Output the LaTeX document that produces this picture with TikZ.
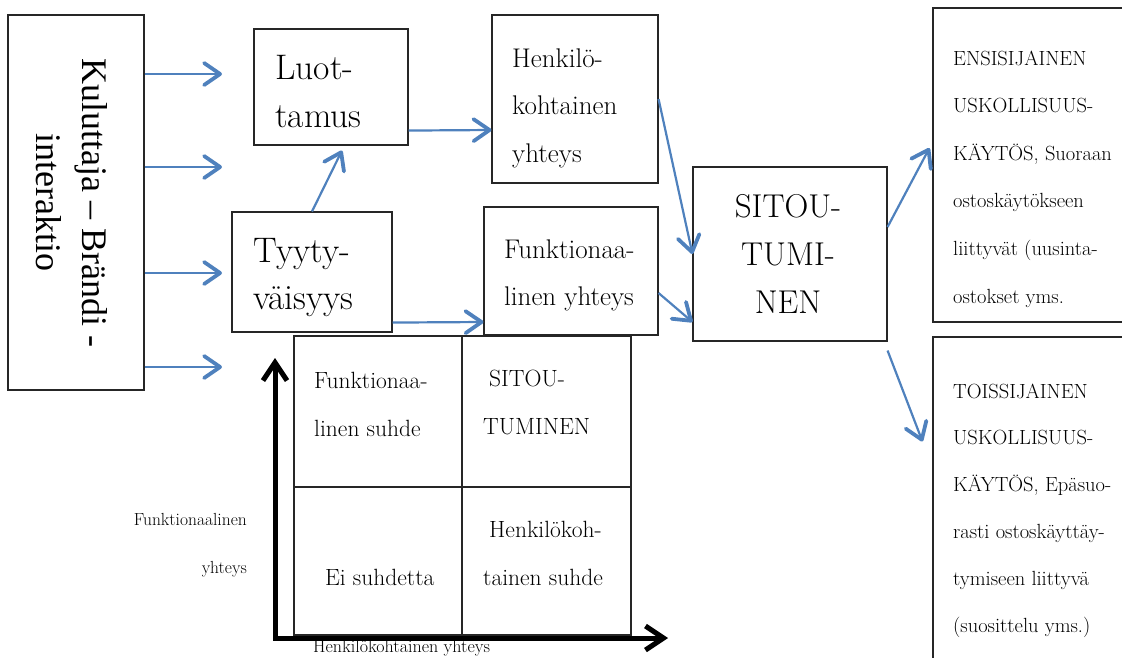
\documentclass[tikz,border=0pt]{standalone}
\usepackage{fontspec}
\newfontfamily\timesfont{Liberation Serif}
\usetikzlibrary{arrows.meta,calc}
\definecolor{flowblue}{RGB}{79,129,189}
\begin{document}
\begin{tikzpicture}[x=1pt,y=-1pt,
  box/.style={draw=black!85,line width=1.1pt,inner sep=0pt},
  txt/.style={inner sep=0pt,align=left,anchor=base west},
  flow/.style={draw=flowblue,line width=2.2pt,
    -{Straight Barb[length=16pt,width=22pt,line width=3.8pt,round]}},
  axis/.style={line width=5pt,
    {Straight Barb[length=18pt,width=24pt,line width=5pt]}-{Straight Barb[length=18pt,width=24pt,line width=5pt]}},
]
\useasboundingbox (0,0) rectangle (1122,657);

% consumer-brand interaction box
\node[box,minimum width=136pt,minimum height=375pt] (kb) at (76,202.5) {};
\node[rotate=-90,inner sep=0pt,align=center,font=\timesfont\fontsize{36}{46}\selectfont] (kbt) at (72.3,202.5) {Kuluttaja – Brändi -\\interaktio};

% trust and satisfaction (anchors sit on the last baseline)
\node[box,minimum width=154pt,minimum height=116pt] (lu) at (331,87) {};
\node[txt,font=\fontsize{35.5}{48}\selectfont] (lut) at (275,127) {Luot-\\tamus};
\node[box,minimum width=160pt,minimum height=120pt] (ty) at (312,272) {};
\node[txt,font=\fontsize{35.5}{47}\selectfont] (tyt) at (253,309) {Tyyty-\\väisyys};

% personal and functional connection
\node[box,minimum width=166pt,minimum height=168pt] (he) at (575,99) {};
\node[txt,font=\fontsize{27}{47.5}\selectfont] (het) at (512,162) {Henkilö-\\kohtainen\\yhteys};
\node[box,minimum width=174pt,minimum height=128pt] (fu) at (571,271) {};
\node[txt,font=\fontsize{27}{47}\selectfont] (fut) at (504,305) {Funktionaa-\\linen yhteys};

% commitment
\node[box,minimum width=194pt,minimum height=174pt] (si) at (790,254) {};
\node[inner sep=0pt,align=center,anchor=base,font=\fontsize{33}{48}\selectfont] (sit) at (788,313) {SITOU-\\TUMI-\\NEN};

% loyalty behaviour
\node[box,minimum width=197pt,minimum height=314pt] (en) at (1031.5,165) {};
\node[txt,font=\fontsize{20.5}{47.6}\selectfont] (ent) at (953,303) {ENSISIJAINEN\\USKOLLISUUS-\\KÄYTÖS, Suoraan\\ostoskäytökseen\\liittyvät (uusinta-\\ostokset yms.};
\node[box,minimum width=197pt,minimum height=343pt] (to) at (1031.5,508.5) {};
\node[txt,font=\fontsize{20.5}{46.8}\selectfont] (tot) at (953,632) {TOISSIJAINEN\\USKOLLISUUS-\\KÄYTÖS, Epäsuo-\\rasti ostoskäyttäy-\\tymiseen liittyvä\\(suosittelu yms.)};

% arrows
\coordinate (in1) at (222,74);
\coordinate (in2) at (222,167);
\coordinate (in3) at (222,273);
\coordinate (in4) at (222,367);
\foreach \c in {in1,in2,in3,in4}
  \draw[flow] (kb.east |- \c) -- (\c);
\draw[flow] (ty.north) -- ($(lu.south)+(11,5)$);
\draw[flow] ([yshift=15pt]lu.south east) -- ([yshift=-31pt]he.west);
\draw[flow] ([yshift=10pt]ty.south east) -- ([yshift=-51pt]fu.west);
\draw[flow] (he.east) -- (si.west);
\draw[flow] ([yshift=-22pt]fu.east) -- ([yshift=-68pt]si.west);
\draw[flow] ([yshift=27pt]si.east) -- ([shift={(-3pt,17pt)}]en.west);
\draw[flow] ([yshift=-9pt]si.south east) -- ([shift={(-10pt,-105pt)}]to.north west);

% relationship matrix
\coordinate (o) at (275,638);
\coordinate (ytip) at (275,358);
\coordinate (xtip) at (668,638);
\draw[axis,draw=black!25,shift={(2,3)}] (ytip) -- (o) -- (xtip);
\node[box,minimum width=168pt,minimum height=151pt] (c11) at (378,411.5) {};
\node[box,minimum width=169pt,minimum height=151pt] (c12) at (546.5,411.5) {};
\node[box,minimum width=168pt,minimum height=148pt] (c21) at (378,561) {};
\node[box,minimum width=169pt,minimum height=148pt] (c22) at (546.5,561) {};
\node[txt,font=\fontsize{23.5}{48}\selectfont] (c11t) at (314,436) {Funktionaa-\\linen suhde};
\node[txt,font=\fontsize{23.5}{48}\selectfont] (c12t) at (483,434) {\hspace*{6pt}SITOU-\\TUMINEN};
\node[txt,font=\fontsize{23.5}{48}\selectfont] (c22t) at (483,585) {\hspace*{6pt}Henkilökoh-\\tainen suhde};
\node[txt,font=\fontsize{23.5}{48}\selectfont] (c21t) at (325,585) {Ei suhdetta};
\draw[axis] (ytip) -- (o) -- (xtip);
\node[inner sep=0pt,align=right,anchor=base east,font=\fontsize{17.5}{48}\selectfont] (ylab) at (247,573) {Funktionaalinen\\yhteys};
\node[inner sep=0pt,anchor=base west,font=\fontsize{18}{20}\selectfont] (xlab) at (313,652) {Henkilökohtainen yhteys};
\end{tikzpicture}
\end{document}
